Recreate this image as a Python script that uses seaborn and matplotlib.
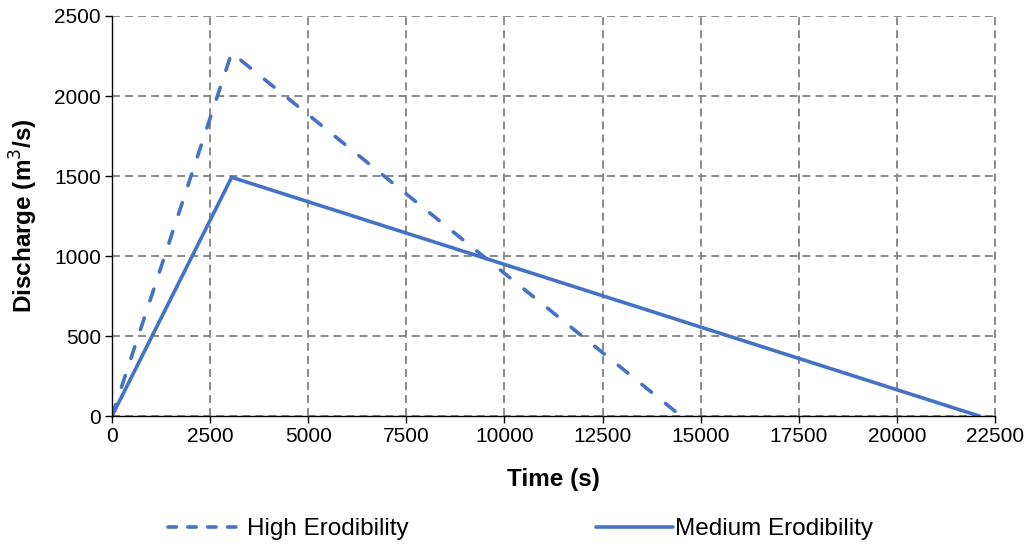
import matplotlib
matplotlib.use("Agg")
import matplotlib.pyplot as plt
import seaborn as sns
import pandas as pd

# Data
high_time = [0, 3050, 14500]
high_discharge = [0, 2270, 0]
medium_time = [0, 3050, 22100]
medium_discharge = [0, 1492, 0]
series_names = ["High Erodibility", "Medium Erodibility"]
x_ticks = [0, 2500, 5000, 7500, 10000, 12500, 15000, 17500, 20000, 22500]
y_ticks = [0, 500, 1000, 1500, 2000, 2500]

sns.set_theme(style="white")
plt.rcParams['font.family'] = ['Liberation Sans', 'DejaVu Sans']

df = pd.concat([
    pd.DataFrame({"Time": high_time, "Discharge": high_discharge, "Series": series_names[0]}),
    pd.DataFrame({"Time": medium_time, "Discharge": medium_discharge, "Series": series_names[1]}),
], ignore_index=True)

fig = plt.figure(figsize=(10.3, 5.46), dpi=100)
ax = fig.add_axes([0.1087, 0.238, 0.8573, 0.7327])

color = "#4472C4"
sns.lineplot(data=df, x="Time", y="Discharge", style="Series", hue="Series",
             palette=[color, color], dashes={series_names[0]: (3.4, 5.0), series_names[1]: ""},
             linewidth=2.6, ax=ax, legend=True, sort=False, estimator=None)
for ln in ax.lines:
    ln.set_dash_capstyle('round')
    ln.set_dash_joinstyle('round')
    ln.set_solid_joinstyle('round')
    ln.set_linewidth(2.6)

ax.set_xlim(0, 22500)
ax.set_ylim(0, 2500)
ax.set_xticks(x_ticks)
ax.set_yticks(y_ticks)
ax.tick_params(axis='both', labelsize=15, colors='black', direction='out', length=5, width=1, left=True, bottom=True, pad=3)
grid_style = dict(color='#8a8a8a', linestyle=(0, (4.1, 2.6)), linewidth=1.4)
ax.grid(True, **grid_style)
ax.axvline(22500, clip_on=False, zorder=0, **grid_style)
for s in ['top', 'right']:
    ax.spines[s].set_visible(False)
for s in ['left', 'bottom']:
    ax.spines[s].set_color('black')
    ax.spines[s].set_linewidth(1)
    ax.spines[s].set_zorder(3)
ax.set_axisbelow(True)

ax.set_xlabel("Time (s)", fontsize=17.5, fontweight='bold', labelpad=16, color='black')
ax.set_ylabel("Discharge (m$^3$/s)", fontsize=17.5, fontweight='bold', labelpad=10, color='black')

handles, labels = ax.get_legend_handles_labels()
ax.get_legend().remove()
leg = fig.legend(handles, labels, loc='center', bbox_to_anchor=(0.505, 0.031), ncol=2,
                 frameon=False, fontsize=17.5, handlelength=3.2, handletextpad=0.05, columnspacing=7.7,
                 labelcolor='black', borderaxespad=0, borderpad=0)
for lh in leg.get_lines():
    lh.set_linewidth(2.6)
    if lh.get_linestyle() != '-':
        lh.set_dashes((2.3, 3.2))
        lh.set_dash_capstyle('round')

fig.savefig("out.png", dpi=100)
